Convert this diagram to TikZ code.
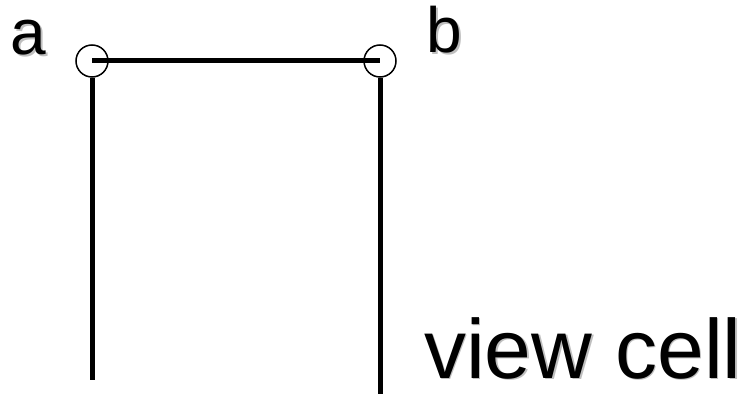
\documentclass[tikz,border=0pt]{standalone}
\usepackage{fontspec}
\setmainfont{Liberation Sans}
\begin{document}
\begin{tikzpicture}[x=1pt,y=1pt,
  endpt/.style={circle,draw,line width=1.5pt,minimum size=32pt,inner sep=0pt,fill=none},
  wall/.style={line width=5pt},
  lbl/.style={inner sep=0pt,anchor=base,text depth=0pt},
  shadowlbl/.style={inner sep=0pt,anchor=base,text depth=0pt,text=black!25}]
\useasboundingbox (0,0) rectangle (749,394);
\node[endpt] (a) at (92,333) {};
\node[endpt] (b) at (380,333) {};
\coordinate (aend) at (92,14);
\coordinate (bend) at (380,0);
\draw[wall] (a.center) -- (b.center);
\draw[wall] (a.south) -- (aend);
\draw[wall] (b.south) -- (bend);
% labels with faint shadow
\node[shadowlbl] at (30,337.5) {\fontsize{64}{64}\selectfont a};
\node[lbl] (la) at (28.5,339) {\fontsize{64}{64}\selectfont a};
\node[shadowlbl] at (446,339.5) {\fontsize{64}{64}\selectfont b};
\node[lbl] (lb) at (444.5,341) {\fontsize{64}{64}\selectfont b};
\node[shadowlbl,anchor=base west] at (425.5,14.5) {\fontsize{84}{84}\selectfont view cell};
\node[lbl,anchor=base west] (vc) at (424,16) {\fontsize{84}{84}\selectfont view cell};
\end{tikzpicture}
\end{document}
